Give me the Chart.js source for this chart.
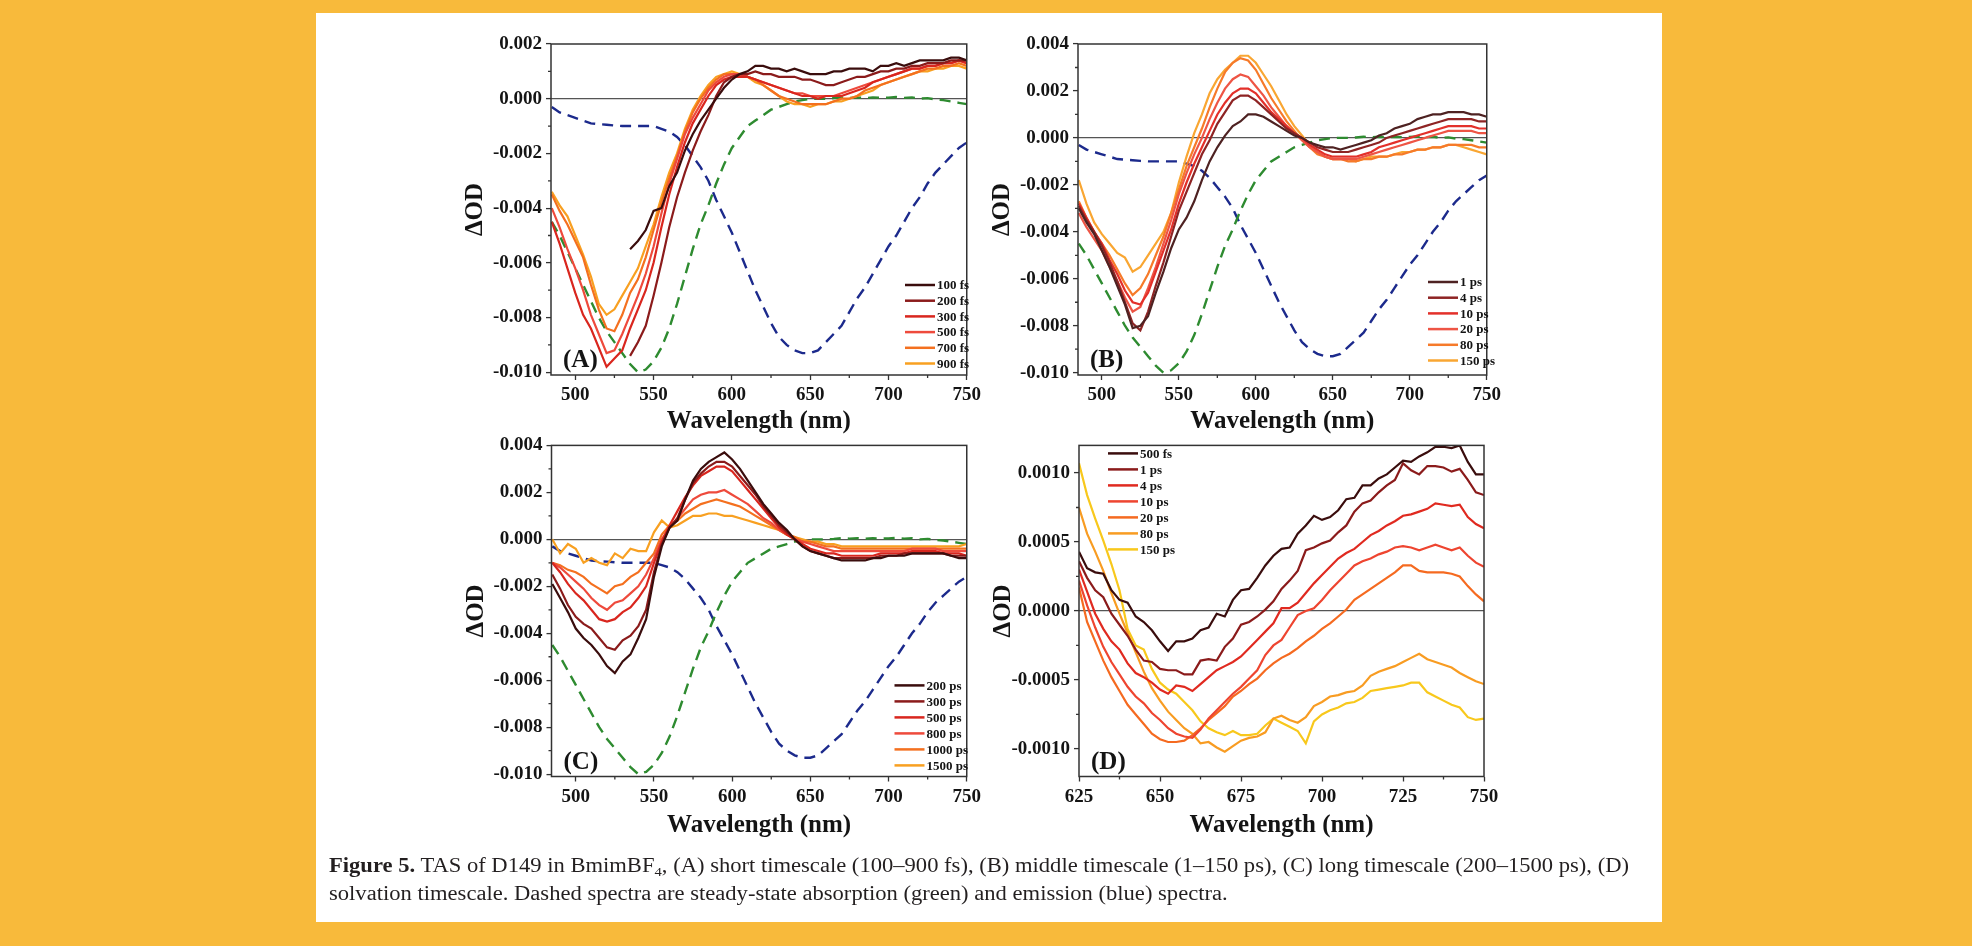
<!DOCTYPE html>
<html>
<head>
<meta charset="utf-8">
<script src="https://cdn.jsdelivr.net/npm/chart.js@4.4.1/dist/chart.umd.min.js"></script>
<style>
    html, body { margin: 0; padding: 0; }
    body { width: 1972px; height: 946px; background: #f8ba3b; position: relative; overflow: hidden; }
    #card { position: absolute; left: 316px; top: 13px; width: 1346px; height: 909px; background: #fff; }
    canvas { position: absolute; }
    #caption { position: absolute; left: 329px; top: 851px; font-family: "Liberation Serif", serif; font-size: 20px;
        line-height: 28px; color: #231f20; white-space: nowrap; transform-origin: 0 0; }
    #caption div { display: block; }
    #cap1 { display: inline-block !important; }
    #caption sub { font-size: 13px; line-height: 0; vertical-align: -4px; }
</style>
</head>
<body>
<div id="card"></div>
<canvas id="panelA"></canvas>
<canvas id="panelB"></canvas>
<canvas id="panelC"></canvas>
<canvas id="panelD"></canvas>
<div id="caption">
    <div><span id="cap1"><b>Figure 5.</b> TAS of D149 in BmimBF<sub>4</sub>, (A) short timescale (100–900 fs), (B) middle timescale (1–150 ps), (C) long timescale (200–1500 ps), (D)</span></div>
    <div>solvation timescale. Dashed spectra are steady-state absorption (green) and emission (blue) spectra.</div>
</div>
<script>
// wavelength grid for panels A-C (nm)
const WL = [485, 490, 495, 500, 505, 510, 515, 520, 525, 530,
    535, 540, 545, 550, 555, 560, 565, 570, 575, 580,
    585, 590, 595, 600, 605, 610, 615, 620, 625, 630,
    635, 640, 645, 650, 655, 660, 665, 670, 675, 680,
    685, 690, 695, 700, 705, 710, 715, 720, 725, 730,
    735, 740, 745, 750];

// steady-state spectra (dashed), same in A, B, C
const ABSORPTION = [-0.0045, -0.0050, -0.0056, -0.0062, -0.0068, -0.0074, -0.0080, -0.0085, -0.0089, -0.0093,
    -0.0097, -0.0100, -0.0099, -0.0096, -0.0091, -0.0084, -0.0075, -0.0065, -0.0055, -0.0046,
    -0.0039, -0.0031, -0.0024, -0.0018, -0.0014, -0.0010, -0.0008, -0.0006, -0.0004, -0.0003,
    -0.0002, -0.0001, -0.00005, 0.0000, 0.0000, 0.0000, 0.00002, 0.00005, 0.00003, 0.00005,
    0.00002, 0.00005, 0.00003, 0.00004, 0.00006, 0.00003, 0.00005, 0.0000, 0.00002, -0.00003,
    -0.00005, -0.0001, -0.00015, -0.0002];
const EMISSION = [-0.0003, -0.0005, -0.0006, -0.0007, -0.0008, -0.0009, -0.00093, -0.00095, -0.00098, -0.0010,
    -0.0010, -0.0010, -0.0010, -0.0010, -0.0011, -0.0012, -0.0014, -0.0017, -0.0021, -0.0025,
    -0.0030, -0.0037, -0.0043, -0.0049, -0.0056, -0.0063, -0.0070, -0.0076, -0.0082, -0.0087,
    -0.0090, -0.0092, -0.0093, -0.0093, -0.0092, -0.0089, -0.0086, -0.0083, -0.0078, -0.0073,
    -0.0069, -0.0064, -0.0059, -0.0054, -0.0050, -0.0045, -0.0040, -0.0036, -0.0031, -0.0027,
    -0.0024, -0.0021, -0.0018, -0.0016];

// (A) short timescale
const A_LABELS = ['100 fs', '200 fs', '300 fs', '500 fs', '700 fs', '900 fs'];
const A_100 = [null, null, null, null, null, null, null, null, null, null,
    -0.0055, -0.0052, -0.0048, -0.0041, -0.0040, -0.0032, -0.0027, -0.0019, -0.0013, -0.0008,
    -0.0004, 0.0000, 0.0004, 0.0007, 0.0009, 0.0010, 0.0012, 0.0012, 0.0011, 0.0011,
    0.0010, 0.0011, 0.0010, 0.0009, 0.0009, 0.0009, 0.0010, 0.0010, 0.0011, 0.0011,
    0.0011, 0.0010, 0.0012, 0.0012, 0.0013, 0.0012, 0.0013, 0.0014, 0.0014, 0.0014,
    0.0014, 0.0015, 0.0015, 0.0014];
const A_200 = [null, null, null, null, null, null, null, null, null, null,
    -0.0094, -0.0089, -0.0083, -0.0072, -0.0060, -0.0047, -0.0036, -0.0027, -0.0019, -0.0012,
    -0.0006, 0.0001, 0.0006, 0.0008, 0.0009, 0.0009, 0.0010, 0.0009, 0.0009, 0.0008,
    0.0008, 0.0008, 0.0007, 0.0007, 0.0006, 0.0005, 0.0005, 0.0006, 0.0007, 0.0008,
    0.0008, 0.0009, 0.0010, 0.0010, 0.0011, 0.0011, 0.0012, 0.0012, 0.0013, 0.0013,
    0.0013, 0.0014, 0.0014, 0.0014];
const A_300 = [-0.0045, -0.0053, -0.0062, -0.0071, -0.0079, -0.0084, -0.0091, -0.0098, -0.0095, -0.0092,
    -0.0084, -0.0077, -0.0070, -0.0060, -0.0047, -0.0035, -0.0025, -0.0016, -0.0009, -0.0004,
    0.0001, 0.0005, 0.0007, 0.0008, 0.0008, 0.0008, 0.0007, 0.0006, 0.0005, 0.0004,
    0.0003, 0.0002, 0.0001, 0.0001, 0.0000, 0.0001, 0.0001, 0.0001, 0.0002, 0.0003,
    0.0004, 0.0006, 0.0007, 0.0008, 0.0009, 0.0010, 0.0011, 0.0011, 0.0012, 0.0012,
    0.0013, 0.0013, 0.0014, 0.0013];
const A_500 = [-0.0040, -0.0047, -0.0055, -0.0062, -0.0070, -0.0079, -0.0086, -0.0093, -0.0092, -0.0086,
    -0.0079, -0.0072, -0.0064, -0.0054, -0.0042, -0.0031, -0.0022, -0.0013, -0.0007, -0.0002,
    0.0003, 0.0006, 0.0008, 0.0009, 0.0009, 0.0008, 0.0007, 0.0006, 0.0005, 0.0004,
    0.0003, 0.0002, 0.0002, 0.0001, 0.0001, 0.0001, 0.0001, 0.0002, 0.0003, 0.0004,
    0.0005, 0.0006, 0.0007, 0.0008, 0.0009, 0.0010, 0.0011, 0.0011, 0.0012, 0.0012,
    0.0013, 0.0013, 0.0014, 0.0013];
const A_700 = [-0.0035, -0.0041, -0.0046, -0.0052, -0.0058, -0.0068, -0.0077, -0.0084, -0.0085, -0.0079,
    -0.0071, -0.0066, -0.0058, -0.0048, -0.0038, -0.0029, -0.0021, -0.0012, -0.0005, 0.0000,
    0.0004, 0.0007, 0.0009, 0.0009, 0.0009, 0.0008, 0.0007, 0.0005, 0.0003, 0.0001,
    0.0000, -0.0001, -0.0002, -0.0002, -0.0002, -0.0002, -0.0001, 0.0000, 0.0000, 0.0001,
    0.0003, 0.0004, 0.0005, 0.0006, 0.0007, 0.0008, 0.0009, 0.0010, 0.0011, 0.0011,
    0.0012, 0.0012, 0.0013, 0.0012];
const A_900 = [-0.0034, -0.0039, -0.0043, -0.0050, -0.0057, -0.0065, -0.0075, -0.0079, -0.0077, -0.0072,
    -0.0067, -0.0062, -0.0054, -0.0046, -0.0036, -0.0027, -0.0020, -0.0011, -0.0004, 0.0001,
    0.0005, 0.0008, 0.0009, 0.0010, 0.0009, 0.0008, 0.0006, 0.0005, 0.0003, 0.0001,
    -0.0001, -0.0002, -0.0002, -0.0003, -0.0002, -0.0002, -0.0001, -0.0001, 0.0000, 0.0001,
    0.0002, 0.0003, 0.0005, 0.0006, 0.0007, 0.0008, 0.0009, 0.0010, 0.0010, 0.0011,
    0.0011, 0.0012, 0.0012, 0.0011];

// (B) middle timescale
const B_LABELS = ['1 ps', '4 ps', '10 ps', '20 ps', '80 ps', '150 ps'];
const B_1 = [-0.0030, -0.0036, -0.0041, -0.0048, -0.0055, -0.0063, -0.0071, -0.0081, -0.0080, -0.0076,
    -0.0066, -0.0057, -0.0047, -0.0039, -0.0034, -0.0027, -0.0018, -0.0010, -0.0004, 0.0001,
    0.0005, 0.0007, 0.0010, 0.0010, 0.0009, 0.0007, 0.0005, 0.0003, 0.0001, 0.0000,
    -0.0002, -0.0003, -0.0004, -0.0004, -0.0005, -0.0004, -0.0003, -0.0002, -0.0001, 0.0001,
    0.0002, 0.0004, 0.0005, 0.0006, 0.0008, 0.0009, 0.0010, 0.0010, 0.0011, 0.0011,
    0.0011, 0.0010, 0.0010, 0.0009];
const B_4 = [-0.0029, -0.0035, -0.0040, -0.0046, -0.0053, -0.0061, -0.0070, -0.0079, -0.0082, -0.0074,
    -0.0063, -0.0053, -0.0042, -0.0031, -0.0023, -0.0015, -0.0007, -0.0001, 0.0006, 0.0011,
    0.0016, 0.0018, 0.0018, 0.0016, 0.0013, 0.0010, 0.0007, 0.0004, 0.0002, 0.0000,
    -0.0002, -0.0004, -0.0005, -0.0006, -0.0006, -0.0006, -0.0005, -0.0004, -0.0003, -0.0002,
    0.0000, 0.0001, 0.0002, 0.0003, 0.0004, 0.0005, 0.0006, 0.0007, 0.0008, 0.0008,
    0.0008, 0.0008, 0.0007, 0.0007];
const B_10 = [-0.0028, -0.0034, -0.0040, -0.0045, -0.0052, -0.0058, -0.0065, -0.0070, -0.0071, -0.0066,
    -0.0057, -0.0048, -0.0039, -0.0028, -0.0019, -0.0011, -0.0004, 0.0003, 0.0010, 0.0015,
    0.0019, 0.0021, 0.0021, 0.0019, 0.0015, 0.0011, 0.0008, 0.0005, 0.0002, 0.0000,
    -0.0003, -0.0005, -0.0007, -0.0008, -0.0008, -0.0008, -0.0008, -0.0007, -0.0006, -0.0004,
    -0.0003, -0.0002, -0.0001, 0.0000, 0.0001, 0.0002, 0.0003, 0.0004, 0.0005, 0.0005,
    0.0005, 0.0005, 0.0004, 0.0004];
const B_20 = [-0.0032, -0.0038, -0.0043, -0.0048, -0.0055, -0.0061, -0.0068, -0.0074, -0.0072, -0.0064,
    -0.0055, -0.0045, -0.0035, -0.0024, -0.0015, -0.0007, 0.0000, 0.0008, 0.0015, 0.0021,
    0.0025, 0.0027, 0.0026, 0.0022, 0.0018, 0.0013, 0.0009, 0.0005, 0.0002, -0.0001,
    -0.0004, -0.0006, -0.0008, -0.0009, -0.0009, -0.0009, -0.0009, -0.0008, -0.0007, -0.0006,
    -0.0005, -0.0004, -0.0003, -0.0002, -0.0001, 0.0000, 0.0001, 0.0002, 0.0003, 0.0003,
    0.0003, 0.0003, 0.0002, 0.0002];
const B_80 = [-0.0027, -0.0034, -0.0040, -0.0045, -0.0050, -0.0056, -0.0062, -0.0067, -0.0064, -0.0058,
    -0.0050, -0.0042, -0.0032, -0.0022, -0.0012, -0.0004, 0.0004, 0.0013, 0.0021, 0.0028,
    0.0032, 0.0034, 0.0033, 0.0029, 0.0023, 0.0017, 0.0012, 0.0007, 0.0003, -0.0001,
    -0.0004, -0.0007, -0.0008, -0.0009, -0.0009, -0.0010, -0.0010, -0.0009, -0.0009, -0.0008,
    -0.0008, -0.0007, -0.0007, -0.0006, -0.0005, -0.0005, -0.0004, -0.0004, -0.0003, -0.0003,
    -0.0003, -0.0003, -0.0004, -0.0004];
const B_150 = [-0.0018, -0.0028, -0.0036, -0.0041, -0.0045, -0.0049, -0.0051, -0.0057, -0.0055, -0.0050,
    -0.0045, -0.0040, -0.0032, -0.0019, -0.0008, 0.0002, 0.0010, 0.0019, 0.0025, 0.0029,
    0.0032, 0.0035, 0.0035, 0.0032, 0.0027, 0.0022, 0.0016, 0.0010, 0.0005, 0.0001,
    -0.0003, -0.0006, -0.0008, -0.0009, -0.0009, -0.0009, -0.0010, -0.0009, -0.0008, -0.0008,
    -0.0008, -0.0007, -0.0006, -0.0006, -0.0005, -0.0005, -0.0004, -0.0004, -0.0003, -0.0003,
    -0.0004, -0.0005, -0.0006, -0.0007];

// (C) long timescale
const C_LABELS = ['200 ps', '300 ps', '500 ps', '800 ps', '1000 ps', '1500 ps'];
const C_200 = [-0.0019, -0.0025, -0.0031, -0.0038, -0.0042, -0.0045, -0.0049, -0.0054, -0.0057, -0.0052,
    -0.0049, -0.0042, -0.0034, -0.0016, -0.0003, 0.0005, 0.0008, 0.0017, 0.0025, 0.0030,
    0.0033, 0.0035, 0.0037, 0.0034, 0.0030, 0.0025, 0.0020, 0.0015, 0.0011, 0.0007,
    0.0004, 0.0000, -0.0003, -0.0005, -0.0006, -0.0007, -0.0008, -0.0009, -0.0009, -0.0009,
    -0.0009, -0.0008, -0.0008, -0.0007, -0.0007, -0.0007, -0.0006, -0.0006, -0.0006, -0.0006,
    -0.0006, -0.0007, -0.0008, -0.0008];
const C_300 = [-0.0015, -0.0021, -0.0028, -0.0033, -0.0036, -0.0038, -0.0042, -0.0046, -0.0047, -0.0043,
    -0.0041, -0.0037, -0.0030, -0.0014, -0.0002, 0.0005, 0.0009, 0.0017, 0.0024, 0.0028,
    0.0031, 0.0033, 0.0033, 0.0031, 0.0027, 0.0023, 0.0019, 0.0014, 0.0010, 0.0006,
    0.0003, 0.0000, -0.0003, -0.0005, -0.0006, -0.0007, -0.0008, -0.0008, -0.0008, -0.0008,
    -0.0008, -0.0008, -0.0007, -0.0007, -0.0007, -0.0006, -0.0006, -0.0006, -0.0006, -0.0006,
    -0.0006, -0.0007, -0.0007, -0.0007];
const C_500 = [-0.0010, -0.0014, -0.0019, -0.0023, -0.0026, -0.0030, -0.0034, -0.0035, -0.0034, -0.0031,
    -0.0029, -0.0025, -0.0020, -0.0010, -0.0001, 0.0006, 0.0012, 0.0018, 0.0023, 0.0027,
    0.0029, 0.0031, 0.0031, 0.0029, 0.0025, 0.0021, 0.0017, 0.0013, 0.0009, 0.0005,
    0.0002, 0.0000, -0.0002, -0.0004, -0.0005, -0.0006, -0.0006, -0.0007, -0.0007, -0.0007,
    -0.0007, -0.0007, -0.0006, -0.0006, -0.0006, -0.0006, -0.0005, -0.0005, -0.0005, -0.0005,
    -0.0006, -0.0006, -0.0006, -0.0007];
const C_800 = [-0.0010, -0.0012, -0.0015, -0.0018, -0.0021, -0.0025, -0.0028, -0.0030, -0.0027, -0.0026,
    -0.0023, -0.0020, -0.0015, -0.0008, 0.0000, 0.0005, 0.0009, 0.0013, 0.0017, 0.0019,
    0.0020, 0.0020, 0.0021, 0.0019, 0.0017, 0.0015, 0.0012, 0.0009, 0.0007, 0.0004,
    0.0002, 0.0000, -0.0001, -0.0002, -0.0003, -0.0004, -0.0005, -0.0005, -0.0005, -0.0005,
    -0.0005, -0.0005, -0.0005, -0.0005, -0.0005, -0.0005, -0.0004, -0.0004, -0.0004, -0.0004,
    -0.0005, -0.0005, -0.0005, -0.0005];
const C_1000 = [-0.0010, -0.0011, -0.0013, -0.0014, -0.0016, -0.0019, -0.0021, -0.0023, -0.0020, -0.0019,
    -0.0016, -0.0014, -0.0010, -0.0006, 0.0002, 0.0006, 0.0008, 0.0011, 0.0013, 0.0015,
    0.0016, 0.0017, 0.0016, 0.0015, 0.0014, 0.0012, 0.0010, 0.0008, 0.0006, 0.0004,
    0.0002, 0.0001, -0.0001, -0.0001, -0.0002, -0.0003, -0.0003, -0.0004, -0.0004, -0.0004,
    -0.0004, -0.0004, -0.0004, -0.0004, -0.0004, -0.0004, -0.0004, -0.0004, -0.0004, -0.0004,
    -0.0004, -0.0004, -0.0004, -0.0004];
const C_1500 = [0.0000, -0.0006, -0.0002, -0.0004, -0.0010, -0.0008, -0.0010, -0.0011, -0.0006, -0.0008,
    -0.0004, -0.0005, -0.0005, 0.0003, 0.0008, 0.0005, 0.0006, 0.0008, 0.0010, 0.0010,
    0.0011, 0.0011, 0.0010, 0.0010, 0.0009, 0.0008, 0.0007, 0.0006, 0.0005, 0.0004,
    0.0002, 0.0001, 0.0000, -0.0001, -0.0001, -0.0002, -0.0002, -0.0003, -0.0003, -0.0003,
    -0.0003, -0.0003, -0.0003, -0.0003, -0.0003, -0.0003, -0.0003, -0.0003, -0.0003, -0.0003,
    -0.0003, -0.0003, -0.0003, -0.0002];

// (D) solvation timescale, finer grid
const WL_D = [625, 627.5, 630, 632.5, 635, 637.5, 640, 642.5, 645, 647.5,
    650, 652.5, 655, 657.5, 660, 662.5, 665, 667.5, 670, 672.5,
    675, 677.5, 680, 682.5, 685, 687.5, 690, 692.5, 695, 697.5,
    700, 702.5, 705, 707.5, 710, 712.5, 715, 717.5, 720, 722.5,
    725, 727.5, 730, 732.5, 735, 737.5, 740, 742.5, 745, 747.5,
    750];
const D_LABELS = ['500 fs', '1 ps', '4 ps', '10 ps', '20 ps', '80 ps', '150 ps'];
const D_500FS = [0.00043, 0.00031, 0.00028, 0.00027, 0.00015, 0.00008, 0.00006, -0.00004, -0.00008, -0.00014,
    -0.00022, -0.00029, -0.00022, -0.00022, -0.00020, -0.00014, -0.00012, -0.00002, -0.00004, 0.00008,
    0.00015, 0.00016, 0.00024, 0.00033, 0.00040, 0.00045, 0.00046, 0.00056, 0.00062, 0.00069,
    0.00066, 0.00068, 0.00073, 0.00081, 0.00082, 0.00091, 0.00091, 0.00096, 0.00099, 0.00104,
    0.00109, 0.00108, 0.00112, 0.00115, 0.00119, 0.00119, 0.00118, 0.00120, 0.00108, 0.00099,
    0.00099];
const D_1PS = [0.00036, 0.00024, 0.00015, 0.00010, -0.00002, -0.00010, -0.00018, -0.00028, -0.00036, -0.00037,
    -0.00042, -0.00043, -0.00043, -0.00046, -0.00046, -0.00036, -0.00035, -0.00036, -0.00026, -0.00020,
    -0.00010, -0.00008, -0.00004, 0.00001, 0.00007, 0.00016, 0.00022, 0.00029, 0.00044, 0.00046,
    0.00049, 0.00051, 0.00057, 0.00062, 0.00072, 0.00078, 0.00080, 0.00086, 0.00091, 0.00095,
    0.00107, 0.00102, 0.00099, 0.00105, 0.00105, 0.00104, 0.00101, 0.00103, 0.00095, 0.00086,
    0.00084];
const D_4PS = [0.00030, 0.00014, -0.00002, -0.00013, -0.00022, -0.00028, -0.00038, -0.00045, -0.00048, -0.00052,
    -0.00057, -0.00060, -0.00054, -0.00055, -0.00058, -0.00053, -0.00048, -0.00043, -0.00040, -0.00037,
    -0.00033, -0.00027, -0.00021, -0.00015, -0.00009, 0.00002, 0.00002, 0.00006, 0.00013, 0.00020,
    0.00026, 0.00032, 0.00038, 0.00042, 0.00045, 0.00050, 0.00055, 0.00058, 0.00062, 0.00065,
    0.00069, 0.00070, 0.00072, 0.00074, 0.00078, 0.00077, 0.00076, 0.00077, 0.00068, 0.00063,
    0.00060];
const D_10PS = [0.00022, 0.00004, -0.00012, -0.00026, -0.00037, -0.00046, -0.00055, -0.00062, -0.00067, -0.00074,
    -0.00079, -0.00085, -0.00089, -0.00091, -0.00092, -0.00086, -0.00078, -0.00072, -0.00066, -0.00060,
    -0.00055, -0.00049, -0.00043, -0.00032, -0.00025, -0.00021, -0.00012, -0.00003, 0.00000, 0.00002,
    0.00008, 0.00015, 0.00021, 0.00027, 0.00033, 0.00036, 0.00038, 0.00041, 0.00043, 0.00046,
    0.00047, 0.00046, 0.00044, 0.00046, 0.00048, 0.00046, 0.00044, 0.00046, 0.00040, 0.00035,
    0.00032];
const D_20PS = [0.00017, -0.00008, -0.00022, -0.00036, -0.00048, -0.00058, -0.00068, -0.00075, -0.00082, -0.00089,
    -0.00093, -0.00095, -0.00095, -0.00094, -0.00090, -0.00085, -0.00079, -0.00074, -0.00069, -0.00062,
    -0.00058, -0.00053, -0.00049, -0.00043, -0.00038, -0.00034, -0.00031, -0.00027, -0.00022, -0.00018,
    -0.00013, -0.00009, -0.00004, 0.00001, 0.00008, 0.00012, 0.00016, 0.00020, 0.00024, 0.00028,
    0.00033, 0.00033, 0.00029, 0.00028, 0.00028, 0.00028, 0.00027, 0.00025, 0.00018, 0.00012,
    0.00007];
const D_80PS = [0.00075, 0.00056, 0.00043, 0.00029, 0.00013, -0.00002, -0.00016, -0.00030, -0.00044, -0.00056,
    -0.00065, -0.00073, -0.00079, -0.00085, -0.00089, -0.00096, -0.00095, -0.00099, -0.00102, -0.00098,
    -0.00094, -0.00092, -0.00091, -0.00088, -0.00078, -0.00076, -0.00079, -0.00081, -0.00077, -0.00069,
    -0.00066, -0.00062, -0.00061, -0.00059, -0.00058, -0.00054, -0.00047, -0.00044, -0.00042, -0.00040,
    -0.00037, -0.00034, -0.00031, -0.00035, -0.00037, -0.00039, -0.00041, -0.00045, -0.00048, -0.00051,
    -0.00053];
const D_150PS = [0.00107, 0.00084, 0.00067, 0.00051, 0.00034, 0.00015, -0.00013, -0.00025, -0.00028, -0.00042,
    -0.00052, -0.00057, -0.00060, -0.00066, -0.00072, -0.00080, -0.00085, -0.00088, -0.00090, -0.00087,
    -0.00090, -0.00090, -0.00089, -0.00083, -0.00078, -0.00081, -0.00084, -0.00087, -0.00096, -0.00080,
    -0.00075, -0.00072, -0.00070, -0.00067, -0.00066, -0.00063, -0.00058, -0.00057, -0.00056, -0.00055,
    -0.00054, -0.00052, -0.00052, -0.00059, -0.00062, -0.00065, -0.00068, -0.00070, -0.00077, -0.00079,
    -0.00078];

const COLORS_6 = ['#3a0d0d', '#8b1b1b', '#d9261e', '#ee4a3c', '#f4701f', '#f8a021'];
const COLORS_B = ['#4e2222', '#8e2424', '#e3302a', '#ee5545', '#f67a2a', '#f9a632'];
const COLORS_7 = ['#3a0d0d', '#8b1b1b', '#e02a20', '#ee4530', '#f56a20', '#f89c22', '#f8c81c'];
const GREEN = '#2e8b30';
const BLUE = '#1c2a8c';
const INK = '#141414';

const Y_W = 95;
const X_H = 66;
const FONT = '"Liberation Serif", "DejaVu Serif", serif';

Chart.defaults.font.family = FONT;

function toPoints(xs, ys) {
    return xs.map((x, i) => ({x: x, y: ys[i]}));
}

function fmtTick(value, dec) {
    const v = Math.abs(value) < 1e-12 ? 0 : value;
    return v.toFixed(dec);
}

// frame, minor ticks, panel letter and inset legend
const panelDecor = {
    id: 'panelDecor',
    afterDraw(chart, args, opts) {
        const {ctx, chartArea: a, scales: {x, y}} = chart;
        ctx.save();
        ctx.strokeStyle = '#333';
        ctx.lineWidth = 1.3;
        ctx.beginPath();
        for (let k = Math.ceil(x.min / opts.minorX); k * opts.minorX <= x.max + 1e-9; k++) {
            if (Math.abs(Math.round(k * opts.minorX / opts.majorX) * opts.majorX - k * opts.minorX) < 1e-9) continue;
            const px = x.getPixelForValue(k * opts.minorX);
            ctx.moveTo(px, a.bottom);
            ctx.lineTo(px, a.bottom + 3);
        }
        for (let k = Math.ceil(y.min / opts.minorY - 1e-9); k * opts.minorY <= y.max + 1e-12; k++) {
            const v = k * opts.minorY;
            if (Math.abs(Math.round(v / opts.majorY) * opts.majorY - v) < 1e-9) continue;
            const py = y.getPixelForValue(v);
            ctx.moveTo(a.left - 3, py);
            ctx.lineTo(a.left, py);
        }
        ctx.stroke();

        ctx.lineWidth = 1.5;
        ctx.strokeRect(a.left, a.top, a.right - a.left, a.bottom - a.top);

        ctx.fillStyle = INK;
        ctx.font = 'bold 25px ' + FONT;
        ctx.textBaseline = 'alphabetic';
        ctx.textAlign = 'left';
        ctx.fillText(opts.tag, a.left + 12, a.bottom - 8);

        ctx.font = 'bold 13px ' + FONT;
        ctx.textBaseline = 'middle';
        let row = 0;
        chart.data.datasets.forEach(ds => {
            if (!ds.inLegend) return;
            const lx = a.left + opts.legend[0];
            const ly = a.top + opts.legend[1] + row * opts.legend[2];
            ctx.strokeStyle = ds.borderColor;
            ctx.lineWidth = 2.5;
            ctx.beginPath();
            ctx.moveTo(lx, ly);
            ctx.lineTo(lx + 30, ly);
            ctx.stroke();
            ctx.fillText(ds.label, lx + 32, ly + 1);
            row++;
        });
        ctx.restore();
    }
};

function drawPanel(p) {
    const canvas = document.getElementById(p.id);
    canvas.width = p.box[2];
    canvas.height = p.box[3];
    canvas.style.left = p.box[0] + 'px';
    canvas.style.top = p.box[1] + 'px';

    const padding = {
        left: p.area[0] - p.box[0] - Y_W,
        top: p.area[1] - p.box[1],
        right: p.box[0] + p.box[2] - p.area[2],
        bottom: p.box[1] + p.box[3] - p.area[3] - X_H
    };

    const datasets = p.traces.map((vals, i) => ({
        label: p.labels[i],
        data: toPoints(p.wl, vals),
        borderColor: p.colors[i],
        borderWidth: 2.2,
        pointRadius: 0,
        inLegend: true
    }));
    if (p.dashed) {
        datasets.push({
            label: 'absorption',
            data: toPoints(WL, ABSORPTION),
            borderColor: GREEN,
            borderWidth: 2.4,
            borderDash: [11, 7],
            pointRadius: 0
        });
        datasets.push({
            label: 'emission',
            data: toPoints(WL, EMISSION),
            borderColor: BLUE,
            borderWidth: 2.4,
            borderDash: [11, 7],
            pointRadius: 0
        });
    }

    new Chart(canvas, {
        type: 'line',
        data: {datasets: datasets},
        options: {
            responsive: false,
            animation: false,
            layout: {padding: padding},
            elements: {line: {tension: 0}},
            plugins: {
                legend: {display: false},
                tooltip: {enabled: false},
                panelDecor: {
                    tag: p.tag,
                    legend: p.legend,
                    minorX: p.x.minor, majorX: p.x.step,
                    minorY: p.y.minor, majorY: p.y.step
                }
            },
            scales: {
                x: {
                    type: 'linear',
                    min: p.x.min,
                    max: p.x.max,
                    afterFit: s => { s.height = X_H; },
                    ticks: {
                        stepSize: p.x.step,
                        includeBounds: false,
                        autoSkip: false,
                        maxRotation: 0,
                        padding: 4,
                        color: INK,
                        font: {size: 19, weight: 'bold'}
                    },
                    grid: {drawOnChartArea: false, tickLength: 5, tickColor: '#333', tickWidth: 1.3},
                    border: {display: false},
                    title: {
                        display: true,
                        text: 'Wavelength (nm)',
                        color: INK,
                        font: {size: 25, weight: 'bold'},
                        padding: {top: 0, bottom: p.titlePad}
                    }
                },
                y: {
                    type: 'linear',
                    min: p.y.min,
                    max: p.y.max,
                    afterFit: s => { s.width = Y_W; },
                    ticks: {
                        stepSize: p.y.step,
                        includeBounds: false,
                        autoSkip: false,
                        padding: 4,
                        color: INK,
                        font: {size: 19, weight: 'bold'},
                        callback: v => fmtTick(v, p.y.dec)
                    },
                    grid: {
                        color: c => (c.tick && Math.abs(c.tick.value) < 1e-12) ? '#555' : 'rgba(0,0,0,0)',
                        lineWidth: 1.2,
                        tickLength: 5,
                        tickColor: '#333',
                        tickWidth: 1.3
                    },
                    border: {display: false},
                    title: {
                        display: true,
                        text: 'ΔOD',
                        color: INK,
                        font: {size: 25, weight: 'bold'},
                        padding: {top: 5, bottom: 0}
                    }
                }
            }
        },
        plugins: [panelDecor]
    });
}

const PANELS = [
    {
        id: 'panelA', tag: '(A)', box: [440, 20, 545, 430], area: [551, 44, 972, 375],
        x: {min: 484.5, max: 750, step: 50, minor: 25},
        y: {min: -0.0101, max: 0.002, step: 0.002, minor: 0.001, dec: 3},
        wl: WL, traces: [A_100, A_200, A_300, A_500, A_700, A_900], labels: A_LABELS, colors: COLORS_6,
        dashed: true, legend: [354, 241, 15.7], titlePad: 4
    },
    {
        id: 'panelB', tag: '(B)', box: [975, 20, 530, 430], area: [1078, 44, 1487, 375],
        x: {min: 484.5, max: 750, step: 50, minor: 25},
        y: {min: -0.0101, max: 0.004, step: 0.002, minor: 0.001, dec: 3},
        wl: WL, traces: [B_1, B_4, B_10, B_20, B_80, B_150], labels: B_LABELS, colors: COLORS_B,
        dashed: true, legend: [350, 238, 15.7], titlePad: 4
    },
    {
        id: 'panelC', tag: '(C)', box: [440, 430, 545, 425], area: [551.5, 445, 972, 776.5],
        x: {min: 484.5, max: 750, step: 50, minor: 25},
        y: {min: -0.0101, max: 0.004, step: 0.002, minor: 0.001, dec: 3},
        wl: WL, traces: [C_200, C_300, C_500, C_800, C_1000, C_1500], labels: C_LABELS, colors: COLORS_6,
        dashed: true, legend: [343, 240, 16], titlePad: 1.5
    },
    {
        id: 'panelD', tag: '(D)', box: [975, 430, 530, 425], area: [1079, 445, 1484, 776.5],
        x: {min: 625, max: 750, step: 25, minor: 12.5},
        y: {min: -0.0012, max: 0.0012, step: 0.0005, minor: 0.00025, dec: 4},
        wl: WL_D, traces: [D_500FS, D_1PS, D_4PS, D_10PS, D_20PS, D_80PS, D_150PS], labels: D_LABELS, colors: COLORS_7,
        dashed: false, legend: [29, 8, 16], titlePad: 1.5
    }
];

PANELS.forEach(drawPanel);

// stretch the caption so its first line spans the same width as in the figure
const cap = document.getElementById('caption');
const firstLine = document.getElementById('cap1').getBoundingClientRect().width;
cap.style.transform = 'scaleX(' + (1300 / firstLine) + ')';
</script>
</body>
</html>
